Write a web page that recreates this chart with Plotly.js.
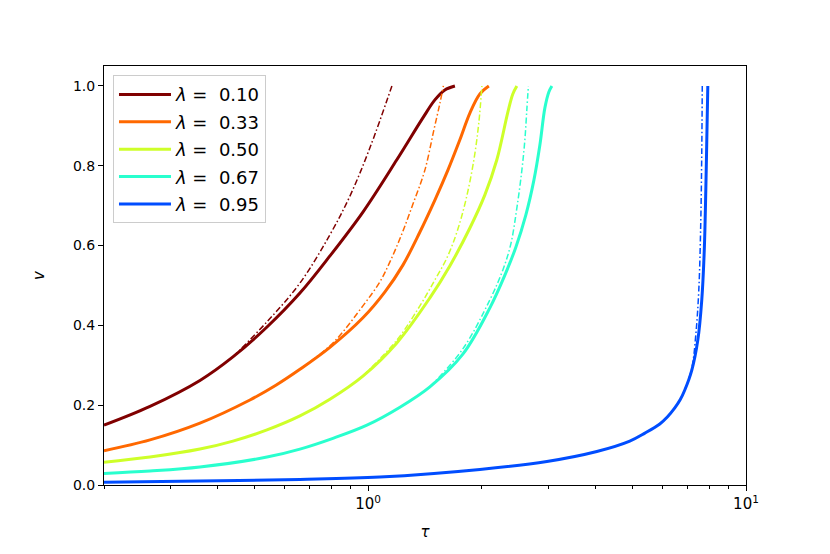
<!DOCTYPE html>
<html>
<head>
<meta charset="utf-8">
<script src="https://cdn.plot.ly/plotly-3.0.1.min.js"></script>
<style>
  html, body { margin: 0; padding: 0; background: #fff; }
  #chart { width: 830px; height: 554px; }
</style>
</head>
<body>
<div id="chart"></div>
<script>
// lambda values and legend labels
var lambdas = ['0.10', '0.33', '0.50', '0.67', '0.95'];
var colors = ['#800000', '#ff6800', '#ceff29', '#29ffce', '#004dff'];

// solid curves (tau, v)
var tau010 = [0.2, 0.2647, 0.3589, 0.4387, 0.54, 0.66, 0.7922, 0.9687, 1.191, 1.396, 1.502, 1.596, 1.697];
var v010   = [0.15, 0.197, 0.262, 0.321, 0.396, 0.481, 0.574, 0.684, 0.815, 0.92, 0.965, 0.99, 1.0];

var tau033 = [0.2, 0.2647, 0.3589, 0.4866, 0.57, 0.66, 0.7922, 0.9687, 1.108, 1.236, 1.371, 1.502, 1.626, 1.749, 1.859, 1.976, 2.087];
var v033   = [0.086, 0.113, 0.155, 0.213, 0.25, 0.29, 0.345, 0.419, 0.484, 0.551, 0.634, 0.714, 0.789, 0.865, 0.932, 0.98, 1.0];

var tau050 = [0.2, 0.2647, 0.3589, 0.4387, 0.54, 0.66, 0.7922, 0.9687, 1.191, 1.457, 1.645, 1.859, 2.037, 2.191, 2.344, 2.415, 2.475];
var v050   = [0.057, 0.07, 0.09, 0.11, 0.138, 0.173, 0.215, 0.273, 0.356, 0.469, 0.549, 0.644, 0.727, 0.815, 0.935, 0.98, 1.0];

var tau067 = [0.2, 0.2647, 0.3589, 0.54, 0.66, 0.807, 0.9927, 1.214, 1.457, 1.781, 2.1, 2.301, 2.46, 2.615, 2.746, 2.848, 2.936, 3.008, 3.064];
var v067   = [0.029, 0.035, 0.045, 0.07, 0.09, 0.117, 0.15, 0.195, 0.246, 0.328, 0.444, 0.526, 0.596, 0.677, 0.764, 0.852, 0.945, 0.985, 1.0];

var tau095 = [0.2, 0.3589, 0.66, 1.074, 1.976, 2.972, 4.03, 4.925, 5.4, 5.914, 6.2, 6.48, 6.7, 6.887, 7.188, 7.455, 7.638, 7.755, 7.828, 7.875, 7.924];
var v095   = [0.007, 0.01, 0.014, 0.02, 0.039, 0.059, 0.084, 0.11, 0.13, 0.153, 0.171, 0.193, 0.214, 0.238, 0.288, 0.363, 0.464, 0.589, 0.739, 0.865, 1.0];

// dash-dot approximations (tau, v)
var tauA010 = [0.4387, 0.54, 0.66, 0.7922, 0.895, 1.011, 1.156];
var vA010   = [0.321, 0.409, 0.506, 0.627, 0.724, 0.845, 1.0];

var tauA033 = [0.66, 0.807, 0.9687, 1.074, 1.142, 1.228, 1.314, 1.413, 1.493, 1.549, 1.582];
var vA033   = [0.29, 0.356, 0.449, 0.509, 0.559, 0.629, 0.704, 0.789, 0.89, 0.957, 1.0];

var tauA050 = [0.9687, 1.191, 1.371, 1.502, 1.616, 1.718, 1.814, 1.905, 1.964, 2.0];
var vA050   = [0.273, 0.363, 0.449, 0.514, 0.569, 0.634, 0.714, 0.815, 0.91, 1.0];

var tauA067 = [1.457, 1.781, 2.1, 2.273, 2.386, 2.475, 2.552, 2.599, 2.63, 2.655];
var vA067   = [0.246, 0.341, 0.464, 0.539, 0.604, 0.694, 0.789, 0.865, 0.94, 1.0];

var tauA095 = [6.887, 7.188, 7.364, 7.501, 7.593, 7.638, 7.661];
var vA095   = [0.238, 0.293, 0.376, 0.489, 0.664, 0.84, 1.0];

var xMajor = [1, 10];
var xMajorText = ['10<sup>0</sup>', '10<sup>1</sup>'];
var xMinor = [0.2, 0.3, 0.4, 0.5, 0.6, 0.7, 0.8, 0.9, 2, 3, 4, 5, 6, 7, 8, 9];

var solid = [[tau010, v010], [tau033, v033], [tau050, v050], [tau067, v067], [tau095, v095]];
var approx = [[tauA010, vA010], [tauA033, vA033], [tauA050, vA050], [tauA067, vA067], [tauA095, vA095]];

var data = [];
for (var i = 0; i < lambdas.length; i++) {
    data.push({
        x: solid[i][0],
        y: solid[i][1],
        name: '<i>λ</i> =  ' + lambdas[i],
        legendgroup: 'g' + i,
        mode: 'lines',
        line: {color: colors[i], width: 3, shape: 'spline', smoothing: 1},
        type: 'scatter'
    });
    data.push({
        x: approx[i][0],
        y: approx[i][1],
        legendgroup: 'g' + i,
        showlegend: false,
        mode: 'lines',
        line: {color: colors[i], width: 1.5, dash: '6px,2.5px,1.5px,2.5px', shape: 'spline', smoothing: 1},
        type: 'scatter'
    });
}

var layout = {
    width: 830,
    height: 554,
    paper_bgcolor: '#fff',
    plot_bgcolor: '#fff',
    font: {family: 'DejaVu Sans', size: 14, color: '#000'},
    margin: {l: 104, r: 84, t: 66, b: 69},
    xaxis: {
        type: 'log',
        range: [Math.log10(0.2), 1],
        tickmode: 'array',
        tickvals: xMajor,
        ticktext: xMajorText,
        ticks: 'outside',
        ticklen: 5,
        tickwidth: 1,
        tickcolor: '#000',
        tickfont: {size: 15},
        showgrid: false,
        zeroline: false,
        showline: true,
        linecolor: '#000',
        linewidth: 1,
        mirror: true,
        minor: {tickmode: 'array', tickvals: xMinor, ticks: 'outside', ticklen: 3, tickwidth: 0.8, tickcolor: '#000', showgrid: false},
        title: {text: '<i>τ</i>', font: {size: 15}, standoff: 14}
    },
    yaxis: {
        range: [0, 1.05],
        tickmode: 'array',
        tickvals: [0, 0.2, 0.4, 0.6, 0.8, 1.0],
        ticktext: ['0.0', '0.2', '0.4', '0.6', '0.8', '1.0'],
        ticks: 'outside',
        ticklen: 5,
        tickwidth: 1,
        tickcolor: '#000',
        showgrid: false,
        zeroline: false,
        showline: true,
        linecolor: '#000',
        linewidth: 1,
        mirror: true,
        title: {text: '<i>v</i>', font: {size: 15}, standoff: 24}
    },
    legend: {
        x: 0.014,
        y: 0.978,
        xanchor: 'left',
        yanchor: 'top',
        bgcolor: 'rgba(255,255,255,0.8)',
        bordercolor: '#cccccc',
        borderwidth: 1,
        font: {size: 18},
        itemwidth: 52,
        tracegroupgap: 1
    },
    showlegend: true
};

Plotly.newPlot('chart', data, layout, {displayModeBar: false});
</script>
</body>
</html>
